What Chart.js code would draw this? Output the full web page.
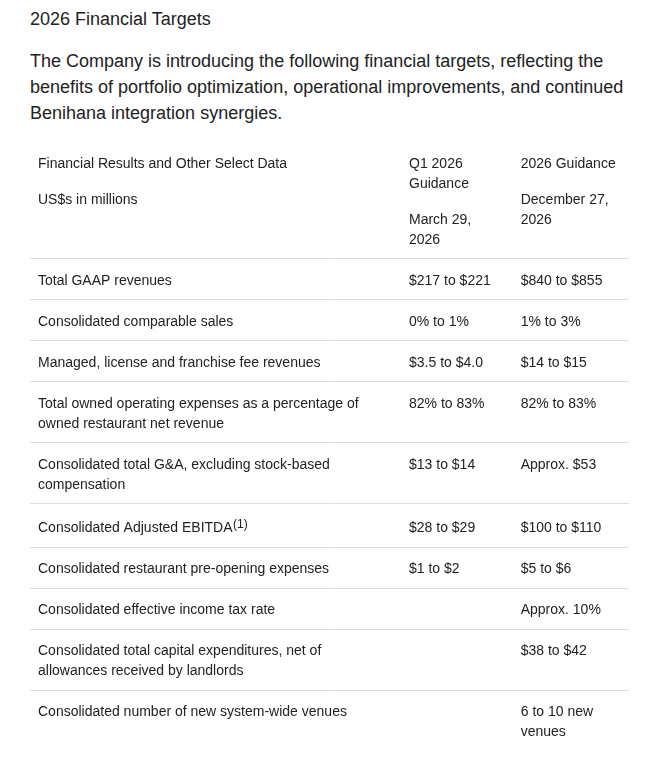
<!DOCTYPE html>
<html>
<head>
<meta charset="utf-8">
<title>2026 Financial Targets</title>
<script src="https://cdn.jsdelivr.net/npm/chart.js@4.4.1/dist/chart.umd.min.js"></script>
<style>
  html, body { margin:0; padding:0; background:#fff; }
  body { width:657px; height:771px; position:relative; overflow:hidden; font-family:Arial, "Liberation Sans", sans-serif; color:#222; }
  h2 { position:absolute; left:30px; top:6px; margin:0; font-size:18px; font-weight:normal; line-height:26px; }
  p.intro { position:absolute; left:30px; top:47.5px; width:600px; margin:0; font-size:18px; line-height:26px; }
  #wrap { position:absolute; left:0; top:130px; width:657px; height:641px; }
</style>
</head>
<body>
<h2>2026 Financial Targets</h2>
<p class="intro">The Company is introducing the following financial targets, reflecting the benefits of portfolio optimization, operational improvements, and continued Benihana integration synergies.</p>
<div id="wrap"><canvas id="targets"></canvas></div>
<script>
// --- Données du tableau ---
const headCols = [
  ['Financial Results and Other Select Data', 'US$s in millions'],
  ['Q1 2026 Guidance', 'March 29, 2026'],
  ['2026 Guidance', 'December 27, 2026']
];
const metrics = [
  'Total GAAP revenues',
  'Consolidated comparable sales',
  'Managed, license and franchise fee revenues',
  'Total owned operating expenses as a percentage of owned restaurant net revenue',
  'Consolidated total G&A, excluding stock-based compensation',
  'Consolidated Adjusted EBITDA',
  'Consolidated restaurant pre-opening expenses',
  'Consolidated effective income tax rate',
  'Consolidated total capital expenditures, net of allowances received by landlords',
  'Consolidated number of new system-wide venues'
];
const metricNotes = ['', '', '', '', '', '(1)', '', '', '', ''];
const q1Guidance = ['$217 to $221', '0% to 1%', '$3.5 to $4.0', '82% to 83%', '$13 to $14', '$28 to $29', '$1 to $2', '', '', ''];
const fyGuidance = ['$840 to $855', '1% to 3%', '$14 to $15', '82% to 83%', 'Approx. $53', '$100 to $110', '$5 to $6', 'Approx. 10%', '$38 to $42', '6 to 10 new venues'];

// --- Mise en page ---
const FONT = 'Arial, "Liberation Sans", sans-serif';
const LINE_H = 20, PAD_Y = 10.5, PAD_X = 8, PARA_GAP = 16, SUP_EXTRA = 2.4, BASE = 15.3;
const TABLE_W = 599;
const colEdges = [0, 371, 482.7];   // bord gauche de chaque colonne
const wrapWidths = [350, 92, 100];
const TOP = 11.8, BOX_H = 641;

const mctx = document.createElement('canvas').getContext('2d');
mctx.font = '14px ' + FONT;
function wrap(text, w) {
  if (!text) return [];
  const lines = []; let cur = '';
  text.split(' ').forEach(wd => {
    const t = cur ? cur + ' ' + wd : wd;
    if (cur && mctx.measureText(t).width > w) { lines.push(cur); cur = wd; } else cur = t;
  });
  lines.push(cur);
  return lines;
}

// cellules : une par point du nuage, positionnées par les échelles
const cells = [];
const rowTops = [];
let yCur = 0;

// en-tête (deux paragraphes par colonne)
let headH = 0;
headCols.forEach((paras, c) => {
  const lines = []; let dy = PAD_Y;
  paras.forEach((p, k) => {
    if (k > 0) dy += PARA_GAP;
    wrap(p, wrapWidths[c]).forEach(t => { lines.push({ text: t, dy: dy + BASE }); dy += LINE_H; });
  });
  headH = Math.max(headH, dy + PAD_Y);
  cells.push({ x: colEdges[c], y: yCur, lines: lines, sup: '' });
});
yCur += headH;

metrics.forEach((m, r) => {
  const texts = [m, q1Guidance[r], fyGuidance[r]];
  const extra = metricNotes[r] ? SUP_EXTRA : 0;
  let n = 1;
  rowTops.push(yCur);
  texts.forEach((t, c) => {
    const wl = wrap(t, wrapWidths[c]);
    n = Math.max(n, wl.length);
    cells.push({
      x: colEdges[c], y: yCur,
      lines: wl.map((s, k) => ({ text: s, dy: PAD_Y + extra + k * LINE_H + BASE })),
      sup: c === 0 ? metricNotes[r] : ''
    });
  });
  yCur += n * LINE_H + 2 * PAD_Y + extra;
});
const tableH = yCur;

const cellText = {
  id: 'cellText',
  afterDatasetsDraw(chart) {
    const ctx = chart.ctx, ys = chart.scales.y;
    const meta = chart.getDatasetMeta(0);
    ctx.save();
    ctx.fillStyle = '#222';
    ctx.textBaseline = 'alphabetic';
    meta.data.forEach((pt, i) => {
      const cell = cells[i];
      const x0 = pt.x + PAD_X;
      ctx.font = '14px ' + FONT;
      cell.lines.forEach(l => ctx.fillText(l.text, x0, ys.getPixelForValue(cell.y + l.dy)));
      if (cell.sup && cell.lines.length) {
        const last = cell.lines[cell.lines.length - 1];
        const w = ctx.measureText(last.text).width;
        ctx.font = '12px ' + FONT;
        ctx.fillText(cell.sup, x0 + w + 0.5, ys.getPixelForValue(cell.y + last.dy) - 4);
      }
    });
    ctx.restore();
  }
};

new Chart(document.getElementById('targets'), {
  type: 'scatter',
  data: { datasets: [{ data: cells, pointRadius: 0, pointHoverRadius: 0 }] },
  options: {
    responsive: true, maintainAspectRatio: false, animation: false, events: [],
    layout: { padding: { left: 30, right: 28, top: TOP, bottom: BOX_H - TOP - tableH } },
    plugins: { legend: { display: false }, tooltip: { enabled: false } },
    scales: {
      x: { type: 'linear', display: false, min: 0, max: TABLE_W },
      y: {
        type: 'linear', reverse: true, min: 0, max: tableH,
        border: { display: false },
        grid: { color: '#dddddd', lineWidth: 1, drawTicks: false },
        ticks: { display: false },
        afterBuildTicks: s => { s.ticks = rowTops.map(v => ({ value: v })); }
      }
    }
  },
  plugins: [cellText]
});
</script>
</body>
</html>
